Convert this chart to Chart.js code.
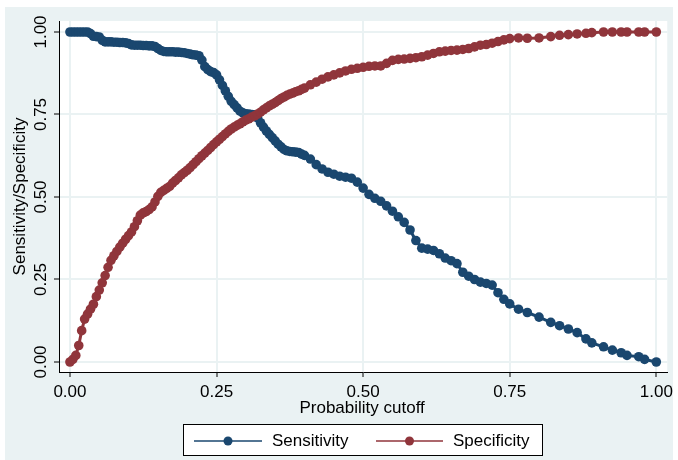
<!DOCTYPE html>
<html>
<head>
<meta charset="utf-8">
<script src="https://cdn.jsdelivr.net/npm/chart.js@4/dist/chart.umd.min.js"></script>
<style>
  html, body { margin: 0; padding: 0; background: #ffffff; }
  #wrap { width: 678px; height: 460px; }
</style>
</head>
<body>
<div id="wrap"><canvas id="lsens" width="678" height="460"></canvas></div>
<script>
// probability cutoffs (shared by both curves)
const cutoffs = [
  0, .005, .01, .015, .02, .025, .03, .035, .04, .045,
  .05, .055, .06, .065, .07, .075, .08, .085, .09, .095,
  .1, .105, .11, .115, .12, .125, .13, .135, .14, .145,
  .15, .155, .16, .165, .17, .175, .18, .185, .19, .195,
  .2, .205, .21, .215, .22, .225, .23, .235, .24, .245,
  .25, .255, .26, .265, .27, .275, .28, .285, .29, .295,
  .3, .305, .31, .315, .32, .325, .33, .335, .34, .345,
  .35, .355, .36, .365, .37, .375, .38, .385, .39, .395,
  .4, .41, .42, .43, .44, .45, .46, .47, .48, .49,
  .5, .51, .52, .53, .54, .55, .56, .57, .58, .59,
  .6, .61, .62, .63, .64, .65, .66, .67, .68, .69,
  .7, .71, .72, .73, .74, .75, .765, .78, .8, .82,
  .835, .85, .865, .88, .89, .91, .925, .94, .95, .97,
  .98, 1
];

const sensitivity = [
  1, 1, 1, 1, 1, 1, 1, .995, .987, .986,
  .985, .975, .97, .97, .97, .969, .969, .968, .968, .967,
  .965, .961, .96, .96, .96, .959, .959, .958, .958, .956,
  .95, .944, .941, .94, .94, .94, .939, .939, .938, .937,
  .935, .933, .931, .93, .928, .915, .895, .886, .88, .877,
  .87, .855, .838, .822, .805, .79, .78, .77, .76, .755,
  .752, .751, .75, .749, .74, .725, .712, .7, .69, .68,
  .67, .66, .652, .644, .64, .638, .637, .636, .635, .63,
  .626, .615, .598, .585, .575, .569, .563, .56, .557, .545,
  .527, .508, .496, .487, .473, .457, .44, .423, .4, .368,
  .345, .342, .338, .328, .315, .307, .298, .272, .26, .25,
  .242, .238, .233, .21, .19, .176, .16, .15, .136, .12,
  .11, .1, .089, .07, .058, .046, .036, .028, .02, .016,
  .008, 0
];

const specificity = [
  0, .008, .02, .05, .095, .13, .145, .16, .175, .198,
  .218, .24, .262, .287, .308, .322, .335, .348, .36, .372,
  .383, .394, .41, .428, .445, .452, .456, .462, .47, .485,
  .502, .514, .52, .526, .532, .542, .55, .558, .567, .574,
  .581, .589, .598, .607, .616, .625, .633, .641, .65, .659,
  .667, .675, .683, .691, .699, .706, .712, .717, .722, .728,
  .733, .737, .742, .746, .751, .757, .764, .77, .776, .781,
  .786, .792, .798, .803, .808, .812, .815, .819, .822, .826,
  .830, .84, .848, .857, .864, .87, .876, .882, .887, .89,
  .893, .896, .897, .897, .905, .914, .917, .918, .92, .922,
  .925, .93, .935, .94, .942, .944, .945, .947, .95, .955,
  .96, .962, .966, .971, .976, .98, .982, .981, .982, .986,
  .99, .992, .994, .996, .998, 1, 1, 1, 1, 1,
  1, 1
];

const tickValues = [0, 0.25, 0.5, 0.75, 1];
const seriesNames = ['Sensitivity', 'Specificity'];
const xTitle = 'Probability cutoff';
const yTitle = 'Sensitivity/Specificity';

const NAVY = '#1a476f';
const MAROON = '#90353b';
const BG = '#eaf2f3';
const FONT = "'Liberation Sans', Arial, sans-serif";

function toPoints(ys) {
  return cutoffs.map((c, i) => ({ x: c, y: ys[i] }));
}

// fondo estilo Stata + textos que Chart.js no coloca bien
const stataFrame = {
  id: 'stataFrame',
  beforeDraw(chart) {
    const { ctx, chartArea: a } = chart;
    ctx.save();
    ctx.fillStyle = '#ffffff';
    ctx.fillRect(0, 0, chart.width, chart.height);
    ctx.fillStyle = BG;
    ctx.fillRect(5, 7, 668, 453);
    ctx.fillStyle = '#ffffff';
    ctx.fillRect(a.left, a.top, a.right - a.left, a.bottom - a.top);
    ctx.restore();
  },
  afterDraw(chart) {
    const { ctx, chartArea: a } = chart;
    const ys = chart.scales.y;
    ctx.save();
    ctx.fillStyle = '#000';
    ctx.font = '17px ' + FONT;
    ctx.textAlign = 'center';
    ctx.textBaseline = 'middle';

    // y tick labels, rotated
    tickValues.forEach(v => {
      const py = ys.getPixelForValue(v);
      ctx.save();
      ctx.translate(41, py);
      ctx.rotate(-Math.PI / 2);
      ctx.fillText(v.toFixed(2), 0, 0);
      ctx.restore();
    });

    // y title
    ctx.save();
    ctx.translate(20, (a.top + a.bottom) / 2);
    ctx.rotate(-Math.PI / 2);
    ctx.fillText(yTitle, 0, 0);
    ctx.restore();

    // x title
    ctx.fillText(xTitle, (a.left + a.right) / 2 - 1, 408);

    // legend
    const lx = 183, ly = 424, lw = 359, lh = 31;
    ctx.fillStyle = '#ffffff';
    ctx.fillRect(lx, ly, lw, lh);
    ctx.strokeStyle = '#000';
    ctx.lineWidth = 1;
    ctx.strokeRect(lx + 0.5, ly + 0.5, lw, lh);

    const items = [
      { x0: 194, x1: 262, tx: 272, color: NAVY, label: seriesNames[0] },
      { x0: 376, x1: 443, tx: 453, color: MAROON, label: seriesNames[1] }
    ];
    const cy = 441;
    items.forEach(it => {
      ctx.strokeStyle = it.color;
      ctx.lineWidth = 1.5;
      ctx.beginPath();
      ctx.moveTo(it.x0, cy);
      ctx.lineTo(it.x1, cy);
      ctx.stroke();
      ctx.fillStyle = it.color;
      ctx.beginPath();
      ctx.arc((it.x0 + it.x1) / 2, cy, 4.5, 0, Math.PI * 2);
      ctx.fill();
      ctx.fillStyle = '#000';
      ctx.textAlign = 'left';
      ctx.fillText(it.label, it.tx, cy);
    });
    ctx.restore();
  }
};

function fixedTicks(scale) {
  scale.ticks = tickValues.map(v => ({ value: v }));
}

new Chart(document.getElementById('lsens'), {
  type: 'line',
  data: {
    datasets: [
      {
        label: seriesNames[0],
        data: toPoints(sensitivity),
        borderColor: NAVY,
        backgroundColor: NAVY,
        borderWidth: 3,
        pointRadius: 4.8,
        pointBorderWidth: 0,
        pointBackgroundColor: NAVY,
        tension: 0,
        order: 2
      },
      {
        label: seriesNames[1],
        data: toPoints(specificity),
        borderColor: MAROON,
        backgroundColor: MAROON,
        borderWidth: 3,
        pointRadius: 4.8,
        pointBorderWidth: 0,
        pointBackgroundColor: MAROON,
        tension: 0,
        order: 1
      }
    ]
  },
  options: {
    responsive: false,
    animation: false,
    layout: { padding: { left: 0, right: 8, top: 21, bottom: 0 } },
    plugins: {
      legend: { display: false },
      tooltip: { enabled: false }
    },
    scales: {
      x: {
        type: 'linear',
        min: -0.01868,
        max: 1.01868,
        afterBuildTicks: fixedTicks,
        afterFit(scale) { scale.height = 88; },
        grid: { color: BG, lineWidth: 2, tickColor: '#000', tickLength: 5, tickWidth: 1 },
        border: { color: '#000', width: 1 },
        ticks: {
          padding: 5,
          color: '#000',
          font: { family: FONT, size: 17 },
          maxRotation: 0,
          callback: v => Number(v).toFixed(2)
        }
      },
      y: {
        type: 'linear',
        min: -0.0303,
        max: 1.0333,
        afterBuildTicks: fixedTicks,
        afterFit(scale) { scale.width = 59; },
        grid: { color: BG, lineWidth: 2, tickColor: '#000', tickLength: 5, tickWidth: 1 },
        border: { color: '#000', width: 1 },
        ticks: { display: false }
      }
    }
  },
  plugins: [stataFrame]
});
</script>
</body>
</html>
